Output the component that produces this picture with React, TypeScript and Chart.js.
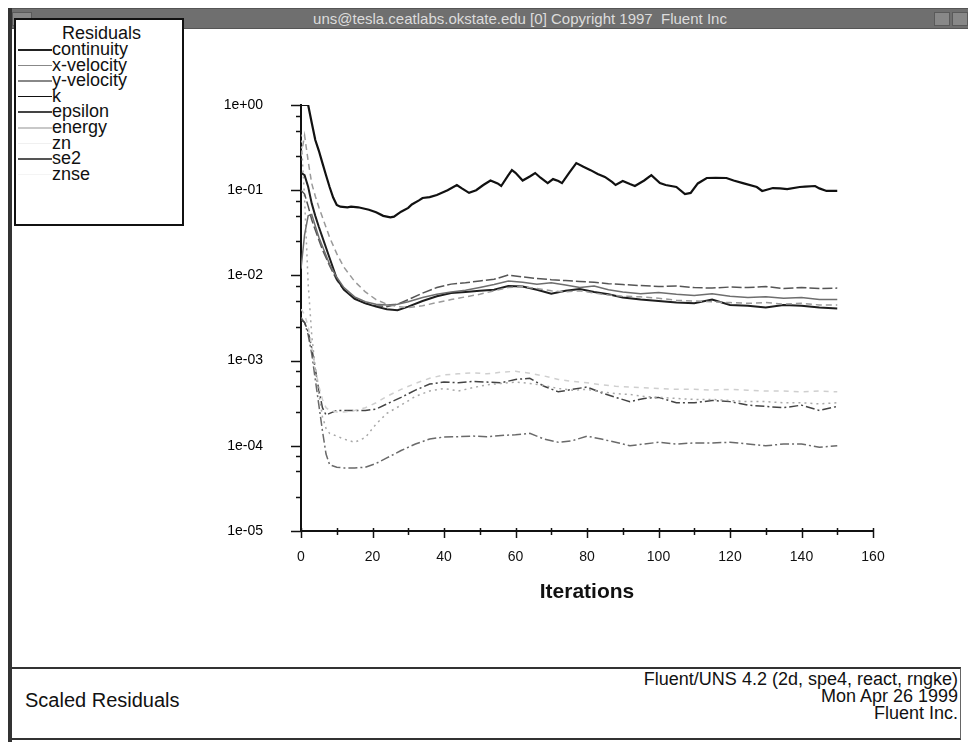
import React, { useEffect, useRef } from "react";
import { Chart, registerables } from "chart.js";

Chart.register(...registerables);

// ---------- data ----------
const seriesNames = ["continuity", "x-velocity", "y-velocity", "k", "epsilon", "energy", "zn", "se2", "znse"];

const contIters = [0, 1, 2, 3, 4, 5, 6, 7, 8, 9, 10, 11, 13, 14, 16, 19, 21, 23, 25, 26, 28, 30, 31, 33, 34, 36, 38, 41, 43.6, 45, 47, 49, 51, 53, 55, 56, 58, 59, 60, 62, 64, 65.5, 67, 69, 70.5, 72, 73, 75, 77, 79, 81, 83, 85, 87, 88, 90, 92, 93.4, 96, 98, 100.4, 102, 105, 107.4, 109, 111, 113.5, 116, 119, 121, 123.6, 127.5, 129, 132, 134, 136, 139.5, 141, 143.8, 145, 147, 150];
const continuity = [1.0, 1.0, 1.0, 0.62, 0.388, 0.29, 0.208, 0.15, 0.109, 0.082, 0.067, 0.064, 0.063, 0.064, 0.063, 0.059, 0.055, 0.05, 0.048, 0.049, 0.056, 0.062, 0.068, 0.076, 0.081, 0.083, 0.088, 0.1, 0.115, 0.105, 0.093, 0.1, 0.115, 0.13, 0.12, 0.112, 0.15, 0.172, 0.16, 0.13, 0.145, 0.159, 0.14, 0.121, 0.135, 0.128, 0.121, 0.16, 0.208, 0.188, 0.172, 0.155, 0.143, 0.125, 0.115, 0.128, 0.118, 0.112, 0.13, 0.15, 0.121, 0.115, 0.109, 0.09, 0.093, 0.12, 0.139, 0.14, 0.139, 0.13, 0.121, 0.109, 0.098, 0.106, 0.105, 0.103, 0.109, 0.11, 0.112, 0.105, 0.098, 0.098];

const midIters = [0, 1, 2, 3, 4, 5, 6, 8, 10, 12, 15, 18, 21, 24, 27, 30, 34, 38, 42, 46, 50, 54, 58, 62, 66, 70, 74, 78, 82, 86, 90, 95, 100, 105, 110, 115, 120, 125, 130, 135, 140, 145, 150];
const xVelocity = [0.012, 0.03, 0.05, 0.052, 0.038, 0.028, 0.022, 0.0135, 0.0095, 0.0072, 0.0056, 0.0049, 0.0046, 0.0045, 0.0046, 0.0049, 0.0055, 0.006, 0.0064, 0.0067, 0.0072, 0.0078, 0.0086, 0.0083, 0.0079, 0.0082, 0.0077, 0.0072, 0.0075, 0.0068, 0.0064, 0.0061, 0.0063, 0.006, 0.0058, 0.0061, 0.0057, 0.0055, 0.0056, 0.0054, 0.0055, 0.0052, 0.0052];
const yVelocity = [0.25, 0.44, 0.22, 0.12, 0.085, 0.063, 0.048, 0.028, 0.018, 0.0125, 0.0085, 0.0064, 0.0052, 0.0046, 0.0043, 0.0042, 0.0044, 0.0048, 0.0052, 0.0056, 0.006, 0.0066, 0.0072, 0.0074, 0.007, 0.0066, 0.0064, 0.0066, 0.0062, 0.0059, 0.0057, 0.0056, 0.0054, 0.0051, 0.005, 0.0049, 0.0048, 0.0047, 0.0048, 0.0046, 0.0047, 0.0045, 0.0045];
const kRes = [0.16, 0.15, 0.11, 0.07, 0.05, 0.037, 0.028, 0.016, 0.0092, 0.0068, 0.0053, 0.0047, 0.0043, 0.004, 0.0039, 0.0043, 0.005, 0.0057, 0.0062, 0.0064, 0.0066, 0.0068, 0.0075, 0.0074, 0.0068, 0.0061, 0.0066, 0.0069, 0.0064, 0.006, 0.0055, 0.0052, 0.005, 0.0048, 0.0047, 0.0052, 0.0045, 0.0044, 0.0042, 0.0045, 0.0044, 0.0042, 0.0041];
const epsilon = [0.1, 0.09, 0.065, 0.045, 0.034, 0.026, 0.02, 0.013, 0.0088, 0.0068, 0.0054, 0.0047, 0.0044, 0.0043, 0.0046, 0.0052, 0.0062, 0.0072, 0.0079, 0.0082, 0.0086, 0.009, 0.0101, 0.0096, 0.0092, 0.0089, 0.0087, 0.0085, 0.0083, 0.008, 0.0078, 0.0076, 0.0074, 0.0075, 0.0072, 0.0071, 0.0073, 0.0072, 0.0074, 0.007, 0.0072, 0.007, 0.0071];

const lowIters = [0, 1, 2, 3, 4, 5, 6, 7, 8, 10, 12, 15, 18, 21, 24, 28, 32, 36, 40, 44, 48, 52, 56, 60, 64, 68, 72, 76, 80, 84, 88, 92, 96, 100, 105, 110, 115, 120, 125, 130, 135, 140, 145, 150];
const energy = [0.45, 0.08, 0.008, 0.002, 0.0008, 0.0004, 0.00022, 0.00016, 0.00014, 0.00013, 0.00012, 0.00011, 0.000125, 0.00018, 0.00024, 0.0003, 0.00038, 0.00044, 0.00047, 0.00044, 0.00048, 0.00052, 0.00054, 0.00056, 0.00054, 0.00051, 0.00047, 0.00045, 0.00046, 0.00043, 0.00041, 0.0004, 0.00038, 0.00037, 0.00036, 0.00035, 0.00035, 0.00034, 0.00033, 0.00033, 0.00032, 0.00032, 0.00031, 0.00032];
const zn = [0.004, 0.0035, 0.0025, 0.0015, 0.0008, 0.0005, 0.00035, 0.00028, 0.00026, 0.00025, 0.00025, 0.00026, 0.00028, 0.00032, 0.00038, 0.00046, 0.00054, 0.00062, 0.00068, 0.0007, 0.00072, 0.0007, 0.00073, 0.00075, 0.00071, 0.00066, 0.0006, 0.00057, 0.00055, 0.00052, 0.0005, 0.00049, 0.00048, 0.00047, 0.00046, 0.00046, 0.00045, 0.00046, 0.00045, 0.00044, 0.00044, 0.00043, 0.00044, 0.00043];
const se2 = [0.003, 0.0028, 0.0022, 0.0014, 0.0008, 0.00045, 0.00028, 0.00023, 0.00024, 0.00026, 0.00026, 0.00026, 0.00026, 0.00027, 0.00031, 0.00037, 0.00045, 0.00053, 0.00056, 0.00055, 0.00057, 0.00056, 0.00055, 0.0006, 0.00062, 0.0005, 0.00043, 0.00046, 0.00049, 0.00042, 0.00037, 0.00033, 0.00036, 0.00037, 0.00032, 0.00032, 0.00034, 0.00033, 0.0003, 0.00029, 0.00028, 0.0003, 0.00026, 0.00029];
const znse = [0.0032, 0.0028, 0.002, 0.0012, 0.0006, 0.0003, 0.00015, 0.00008, 0.00006, 0.000056, 0.000055, 0.000055, 0.000056, 0.000062, 0.000072, 0.000088, 0.000105, 0.00012, 0.000127, 0.000128, 0.00013, 0.000128, 0.000132, 0.000135, 0.00014, 0.00012, 0.00011, 0.000115, 0.00013, 0.00012, 0.00011, 0.0001, 0.000105, 0.00011, 0.000105, 0.000108, 0.000108, 0.00011, 0.000105, 0.0001, 0.000105, 0.000105, 0.000096, 0.0001];

const xTickValues = [0, 10, 20, 30, 40, 50, 60, 70, 80, 90, 100, 110, 120, 130, 140, 150, 160];
const yDecades = [1e-5, 1e-4, 1e-3, 1e-2, 1e-1, 1];
const yMinorFactors = [2.5, 5, 7.5];

const titleText = "uns@tesla.ceatlabs.okstate.edu [0] Copyright 1997  Fluent Inc";
const legendTitle = "Residuals";
const xAxisTitle = "Iterations";
const footerLeft = "Scaled Residuals";
const footerRight = ["Fluent/UNS 4.2 (2d, spe4, react, rngke)", "Mon Apr 26 1999", "Fluent Inc."];

// ---------- styles ----------
const seriesStyles = [
  { color: "#111111", width: 2.2, dash: [] as number[] },
  { color: "#6e6e6e", width: 1.5, dash: [] as number[] },
  { color: "#9a9a9a", width: 1.5, dash: [6, 4] },
  { color: "#1e1e1e", width: 2, dash: [] as number[] },
  { color: "#555555", width: 1.5, dash: [10, 3] },
  { color: "#a8a8a8", width: 1.5, dash: [2, 4] },
  { color: "#cfcfcf", width: 1.5, dash: [5, 5] },
  { color: "#444444", width: 1.5, dash: [9, 3, 2, 3] },
  { color: "#6a6a6a", width: 1.5, dash: [9, 3, 2, 3] },
];
const legendSampleColors = ["#222", "#888", "#888", "#111", "#444", "#c8c8c8", "#f0f0f0", "#555", "#f4f4f4"];

const toPoints = (xs: number[], ys: number[]) => xs.map((x, i) => ({ x, y: ys[i] }));
const seriesData = [
  toPoints(contIters, continuity),
  toPoints(midIters, xVelocity),
  toPoints(midIters, yVelocity),
  toPoints(midIters, kRes),
  toPoints(midIters, epsilon),
  toPoints(lowIters, energy),
  toPoints(lowIters, zn),
  toPoints(lowIters, se2),
  toPoints(lowIters, znse),
];

const isPow10 = (v: number) => Math.abs(Math.log10(v) - Math.round(Math.log10(v))) < 1e-9;
const allYTicks: number[] = [];
yDecades.forEach((d, i) => {
  allYTicks.push(d);
  if (i < yDecades.length - 1) yMinorFactors.forEach((f) => allYTicks.push(d * f));
});

const fmtExp = (v: number) => {
  const e = Math.round(Math.log10(v));
  const sign = e < 0 ? "-" : "+";
  const a = Math.abs(e);
  return "1e" + sign + (a < 10 ? "0" : "") + a;
};

const tickPlugin = {
  id: "fluentTicks",
  afterDraw(chart: any) {
    const { ctx, chartArea, scales } = chart;
    const x = scales.x;
    const y = scales.y;
    ctx.save();
    ctx.strokeStyle = "#111";
    ctx.lineWidth = 1.5;
    allYTicks.forEach((v) => {
      const py = Math.round(y.getPixelForValue(v)) + 0.5;
      const len = isPow10(v) ? 10 : 5;
      ctx.beginPath();
      ctx.moveTo(chartArea.left - len, py);
      ctx.lineTo(chartArea.left, py);
      ctx.stroke();
    });
    xTickValues.forEach((v) => {
      const px = Math.round(x.getPixelForValue(v)) + 0.5;
      const len = v % 20 === 0 ? 7 : 4;
      ctx.beginPath();
      ctx.moveTo(px, chartArea.bottom - 3);
      ctx.lineTo(px, chartArea.bottom + len);
      ctx.stroke();
    });
    ctx.restore();
  },
};

export default function App() {
  const canvasRef = useRef<HTMLCanvasElement | null>(null);

  useEffect(() => {
    if (!canvasRef.current) return;
    const chart = new Chart(canvasRef.current, {
      type: "line",
      data: {
        datasets: seriesNames.map((name, i) => ({
          label: name,
          data: seriesData[i],
          borderColor: seriesStyles[i].color,
          borderWidth: seriesStyles[i].width,
          borderDash: seriesStyles[i].dash,
          pointRadius: 0,
          tension: 0,
          fill: false,
        })),
      },
      options: {
        animation: false,
        responsive: false,
        devicePixelRatio: 1,
        events: [],
        layout: { padding: { left: 220, right: 95, top: 105, bottom: 131 } },
        plugins: { legend: { display: false }, tooltip: { enabled: false } },
        scales: {
          x: {
            type: "linear",
            min: 0,
            max: 160,
            afterFit: (s: any) => {
              s.height = 80;
            },
            grid: { display: false, drawTicks: false },
            border: { display: true, color: "#111", width: 2 },
            ticks: {
              stepSize: 20,
              padding: 18,
              color: "#111",
              font: { family: "'Liberation Sans', Arial, sans-serif", size: 14 },
              maxRotation: 0,
            },
            title: {
              display: true,
              text: xAxisTitle,
              color: "#111",
              font: { family: "'Liberation Sans', Arial, sans-serif", size: 21, weight: "bold" },
              padding: { top: 0, bottom: 6 },
            },
          },
          y: {
            type: "logarithmic",
            min: 1e-5,
            max: 1,
            afterFit: (s: any) => {
              s.width = 81;
            },
            afterBuildTicks: (s: any) => {
              s.ticks = allYTicks.map((v) => ({ value: v, major: isPow10(v) }));
            },
            grid: { display: false, drawTicks: false },
            border: { display: true, color: "#111", width: 2 },
            ticks: {
              padding: 38,
              color: "#000",
              autoSkip: false,
              font: { family: "'Liberation Sans', Arial, sans-serif", size: 14 },
              callback: (v: any) => (isPow10(Number(v)) ? fmtExp(Number(v)) : ""),
            },
          },
        },
      },
      plugins: [tickPlugin],
    });
    return () => chart.destroy();
  }, []);

  const font = "'Liberation Sans', Arial, Helvetica, sans-serif";

  return (
    <div style={{ position: "fixed", left: 0, top: 0, width: 968, height: 742, background: "#fff", overflow: "hidden", fontFamily: font }}>
      {/* title bar */}
      <div style={{ position: "absolute", left: 8, top: 8, width: 960, height: 19, background: "#6f6f6f", borderTop: "1px solid #555", borderBottom: "1px solid #555" }}>
        <div style={{ position: "absolute", left: 4, top: 3, width: 18, height: 12, background: "#888", border: "1px solid #5a5a5a" }} />
        <div style={{ position: "absolute", left: 926, top: 3, width: 14, height: 12, background: "#888", border: "1px solid #5a5a5a" }} />
        <div style={{ position: "absolute", left: 944, top: 3, width: 14, height: 12, background: "#888", border: "1px solid #5a5a5a" }} />
        <div style={{ position: "absolute", left: 0, top: 1, width: 1024, textAlign: "center", color: "#dcdcdc", fontSize: 15, lineHeight: "17px", whiteSpace: "pre" }}>{titleText}</div>
      </div>
      {/* left frame */}
      <div style={{ position: "absolute", left: 8, top: 8, width: 4, height: 734, background: "#333" }} />
      {/* legend */}
      <div style={{ position: "absolute", left: 14, top: 18, width: 166, height: 204, border: "2px solid #111", background: "#fff" }}>
        <div style={{ position: "absolute", left: 46, top: 5, fontSize: 18, lineHeight: "17px", color: "#111" }}>{legendTitle}</div>
        {seriesNames.map((n, i) => (
          <div key={n} style={{ position: "absolute", left: 0, top: 21 + i * 15.6, height: 16, width: 160 }}>
            <div style={{ position: "absolute", left: 2, top: 8, width: 34, height: 1.5, background: legendSampleColors[i] }} />
            <div style={{ position: "absolute", left: 36, top: 0, fontSize: 18, lineHeight: "16px", color: "#111" }}>{n}</div>
          </div>
        ))}
      </div>
      {/* footer */}
      <div style={{ position: "absolute", left: 10, top: 667, width: 950, height: 69, borderTop: "2px solid #333", borderBottom: "2px solid #333", borderRight: "1px solid #666" }}>
        <div style={{ position: "absolute", left: 15, top: 20, fontSize: 20, lineHeight: "22px", color: "#111" }}>{footerLeft}</div>
        <div style={{ position: "absolute", right: 2, top: 2, textAlign: "right", fontSize: 18, lineHeight: "17px", color: "#111" }}>
          {footerRight.map((t) => (
            <div key={t}>{t}</div>
          ))}
        </div>
      </div>
      <canvas ref={canvasRef} width={968} height={742} style={{ position: "absolute", left: 0, top: 0, width: 968, height: 742, pointerEvents: "none" }} />
    </div>
  );
}
